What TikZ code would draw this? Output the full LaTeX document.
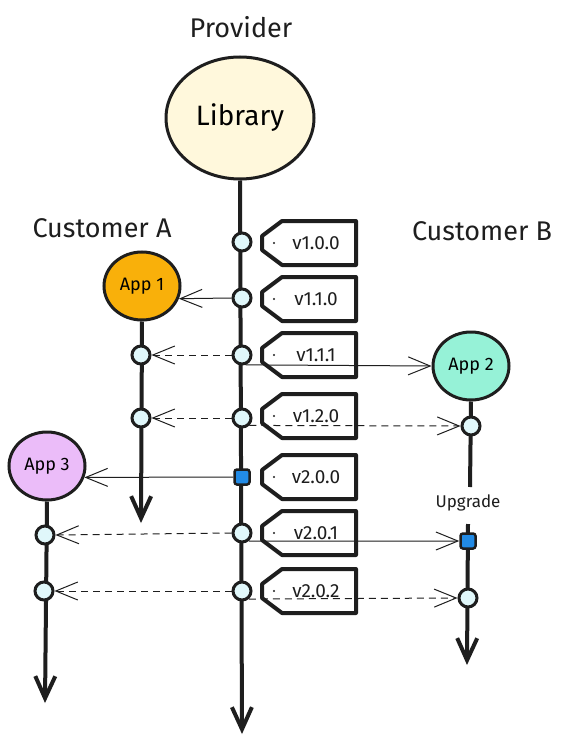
\documentclass[tikz,border=0pt]{standalone}
\usepackage{fontspec}
\setmainfont{Fira Sans}
\usetikzlibrary{arrows.meta,shapes.geometric}
\definecolor{ink}{HTML}{1E1E1E}
\definecolor{vfill}{HTML}{E0F7FA}
\definecolor{sqblue}{HTML}{228BE6}
\definecolor{libfill}{HTML}{FFF8DC}
\definecolor{orangefill}{HTML}{F9B00A}
\definecolor{mintfill}{HTML}{96F2D7}
\definecolor{lavfill}{HTML}{EBBCF9}
\newcommand\vtag[3]{%
  \node[tagtext] (#1) at (316,#2) {#3};
  \draw[tagline] ([shift={(-34,-22)}]#1.center) -- ([shift={(40,-22)}]#1.center) -- ([shift={(40,22)}]#1.center) -- ([shift={(-34,22)}]#1.center) -- ([shift={(-54,7)}]#1.center) -- ([shift={(-54,-7)}]#1.center) -- cycle;
  \fill[ink] ([shift={(-42,0)}]#1.center) circle (1.1pt);
}
\tikzset{
  ln/.style={draw=ink, line width=4pt},
  lnarrow/.style={ln, -{Straight Barb[length=22pt,width=20pt]}},
  ver/.style={circle, draw=ink, line width=3pt, fill=vfill, minimum size=18pt, inner sep=0pt},
  upg/.style={rectangle, rounded corners=2.5pt, draw=ink, line width=2.5pt, fill=sqblue, minimum size=15pt, inner sep=0pt},
  conn/.style={draw=ink, line width=1pt, -{Straight Barb[length=22pt,width=18pt,line width=1pt]}},
  dconn/.style={conn, dash pattern=on 7pt off 5pt},
  app/.style={ellipse, draw=ink, line width=3pt, minimum width=76pt, minimum height=68pt, inner sep=0pt, font=\fontsize{18}{20}\selectfont},
  title/.style={font=\fontsize{27}{30}\selectfont, text=ink},
  tagtext/.style={font=\fontsize{19}{21}\selectfont, text=ink, inner sep=0pt},
  tagline/.style={draw=ink, line width=4pt, line join=round},
}
\begin{document}
\begin{tikzpicture}[x=1pt,y=-1pt]
\useasboundingbox[fill=white] (0,0) rectangle (571,738);
% titles
\node[title] (prov) at (241,27) {Provider};
\node[title] (custA) at (102,228) {Customer A};
\node[title] (custB) at (482,231) {Customer B};
% library
\node[ellipse, draw=ink, line width=3pt, fill=libfill, minimum width=148pt, minimum height=122pt, font=\fontsize{28}{32}\selectfont] (lib) at (240,118) {Library};
% main line
\coordinate (mainend) at (242,734);
\draw[lnarrow] (lib.south) -- (mainend);
% tags
\vtag{t1}{243}{v1.0.0}
\vtag{t2}{299}{v1.1.0}
\vtag{t3}{355}{v1.1.1}
\vtag{t4}{416}{v1.2.0}
\vtag{t5}{477}{v2.0.0}
\vtag{t6}{533}{v2.0.1}
\vtag{t7}{591}{v2.0.2}
% version nodes on main line
\node[ver] (p1) at (242,242) {};
\node[ver] (p2) at (242,298) {};
\node[ver] (p3) at (242,355) {};
\node[ver] (p4) at (242,418) {};
\node[upg] (p5) at (242,477) {};
\node[ver] (p6) at (242,533) {};
\node[ver] (p7) at (242,591) {};
% App 1
\node[app, fill=orangefill] (app1) at (142,286) {App 1};
\coordinate (aend) at (141,523);
\draw[lnarrow] (app1.south) -- (aend);
\node[ver] (a1) at (141,355) {};
\node[ver] (a2) at (141,418) {};
% App 2
\node[app, fill=mintfill] (app2) at (471,366) {App 2};
\coordinate (b0end) at (470,487);
\draw[ln] (app2.south) -- (b0end);
\node[font=\fontsize{17}{19}\selectfont, text=ink] (upgr) at (468,503) {Upgrade};
\coordinate (bstart) at (468,524);
\coordinate (bend) at (467,665);
\draw[lnarrow] (bstart) -- (bend);
\node[ver] (b1) at (471,426) {};
\node[upg] (b2) at (468,541) {};
\node[ver] (b3) at (468,598) {};
% App 3
\node[app, fill=lavfill] (app3) at (47,466) {App 3};
\coordinate (cend) at (45,703);
\draw[lnarrow] (app3.south) -- (cend);
\node[ver] (c1) at (45,535) {};
\node[ver] (c2) at (44,591) {};
% connectors
\draw[conn] (p2.west) -- (app1.-19);
\draw[dconn] (p3.west) -- (a1.east);
\draw[conn] (p3.-70) -- (app2.west);
\draw[dconn] (p4.west) -- (a2.east);
\draw[dconn] (p4.-45) -- (b1.west);
\draw[conn] (p5.west) -- (app3.-17);
\draw[dconn] (p6.west) -- (c1.east);
\draw[conn] (p6.-50) -- (b2.west);
\draw[dconn] (p7.west) -- (c2.east);
\draw[dconn] (p7.-50) -- (b3.west);
\end{tikzpicture}
\end{document}
